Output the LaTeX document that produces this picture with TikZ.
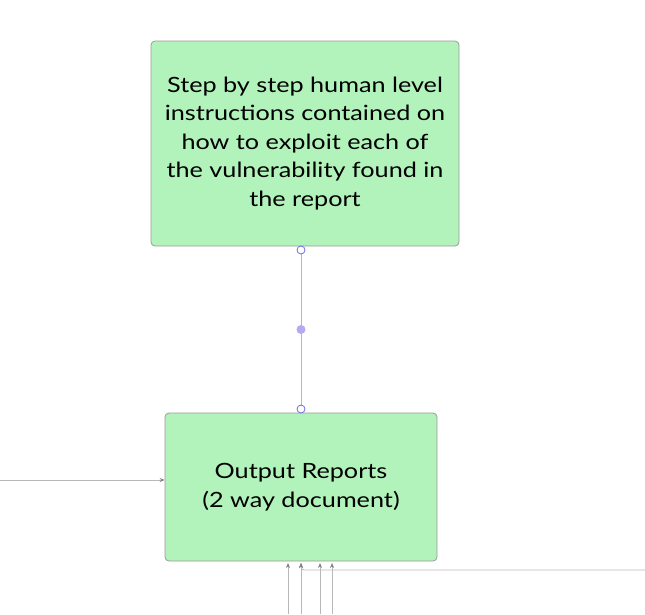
\documentclass[tikz,border=0pt]{standalone}
\usepackage{fontspec}
\setmainfont{Lato}[FakeStretch=1.2]
\usetikzlibrary{arrows.meta, calc}
\definecolor{boxgreen}{HTML}{b2f2bb}
\definecolor{boxedge}{HTML}{9a9a9a}
\definecolor{linkgray}{HTML}{b8b8b8}
\definecolor{handleblue}{HTML}{6c6ce0}
\definecolor{dotpurple}{HTML}{b4aaf2}

\tikzset{
  stepbox/.style={draw=boxedge, fill=boxgreen, rounded corners=4pt, line width=0.8pt,
    align=center, font=\fontsize{21}{28.5}\selectfont, inner sep=0pt},
  link/.style={draw=linkgray, line width=0.9pt},
  feed/.style={draw=linkgray, line width=0.9pt, -{Stealth[length=5pt, width=4pt, color=gray]}},
  handle/.style={draw=handleblue, fill=white, line width=0.8pt, radius=4pt}
}

\begin{document}
\begin{tikzpicture}[x=1pt, y=-1pt]
\useasboundingbox (0,0) rectangle (645,614);

% top box
\node[stepbox, minimum width=308pt, minimum height=205pt] (steps) at (305,143.5)
  {Step by step human level\\instructions contained on\\how to exploit each of\\the vulnerability found in\\the report};

% bottom box
\node[stepbox, minimum width=272pt, minimum height=148pt] (report) at (301,487)
  {Output Reports\\(2 way document)};

% connector between the boxes
\coordinate (hTop) at (301,250);
\coordinate (hBot) at (301,409);
\draw[link] (hTop) -- (hBot);
\draw[handle] (hTop) circle;
\draw[handle] (hBot) circle;
\fill[dotpurple] ($(hTop)!0.5!(hBot)$) circle (4.5pt);

% incoming arrows
\coordinate (inLeft) at (0,480);
\draw[feed] (inLeft) -- (report.west |- inLeft);

\foreach \x/\n in {288/a, 320/c, 332/d} {
  \coordinate (in\n) at (\x,614);
  \draw[feed] (in\n) -- (\x,563);
}
\coordinate (inb) at (301,614);
\draw[feed] (inb) -- (301,563);
\coordinate (inRight) at (645,570);
\draw[feed, rounded corners=3pt] (inRight) -- (301,570) -- (301,563);

\end{tikzpicture}
\end{document}
